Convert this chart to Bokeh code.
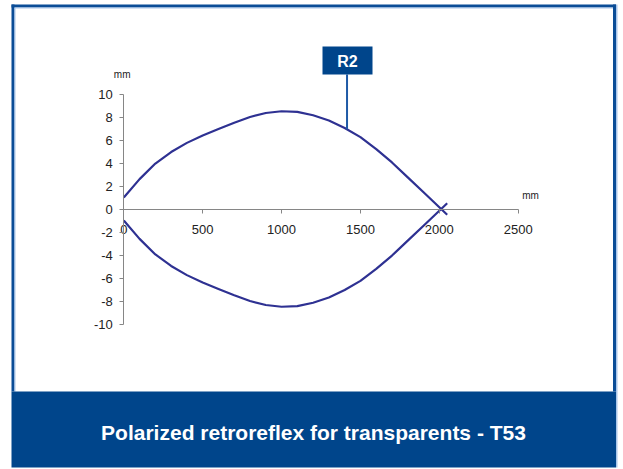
import numpy as np
from bokeh.plotting import figure
from bokeh.models import (Range1d, LinearAxis, FixedTicker, BoxAnnotation, Label, Grid,
                          PrintfTickFormatter)
from bokeh.embed import file_html
from bokeh.resources import INLINE

# ---- data ----
x_upper = [0, 100, 200, 300, 400, 500, 600, 700, 800, 900, 1000, 1100, 1200,
           1300, 1400, 1500, 1600, 1700, 1800, 1900, 2000, 2050]
y_upper = [1.0, 2.6, 3.95, 4.95, 5.75, 6.4, 6.95, 7.5, 8.0, 8.35, 8.5, 8.45, 8.15,
           7.7, 7.05, 6.25, 5.2, 4.05, 2.75, 1.45, 0.15, -0.5]
x_lower = [0, 100, 200, 300, 400, 500, 600, 700, 800, 900, 1000, 1100, 1200,
           1300, 1400, 1500, 1600, 1700, 1800, 1900, 2000, 2050]
y_lower = [-1.0, -2.6, -3.95, -4.95, -5.75, -6.4, -6.95, -7.5, -8.0, -8.35, -8.5, -8.45, -8.15,
           -7.7, -7.05, -6.25, -5.2, -4.05, -2.75, -1.45, -0.15, 0.5]
x_ticks = [0, 500, 1000, 1500, 2000, 2500]
y_ticks = [-10, -8, -6, -4, -2, 0, 2, 4, 6, 8, 10]
callout_x = 1415
callout_text = "R2"
title_text = "Polarized retroreflex for transparents - T53"
unit_text = "mm"

# ---- page pixel <-> data mapping (figure drawn from page pixel 0,0) ----
W, H = 623, 469
X0PX, XS = 123.3, 0.15776
Y0PX, YS = 208.5, 11.5


def dx(px):
    return (px - X0PX) / XS


def dy(py):
    return (Y0PX - py) / YS


FONT = "Liberation Sans"
DARK = "#0b4d97"
LIGHT = "#a9c6ea"
BAND = "#00458b"
CURVE = "#2e3192"
AXIS = "#868686"

p = figure(width=W, height=H, output_backend="svg", toolbar_location=None,
           x_range=Range1d(dx(0), dx(W)), y_range=Range1d(dy(H), dy(0)),
           x_axis_location=None, y_axis_location=None, min_border=0,
           outline_line_color=None, background_fill_color="white",
           border_fill_color="white")
for r in list(p.center):
    if isinstance(r, Grid):
        r.visible = False

# axes crossing at the origin
xa = LinearAxis(fixed_location=0, bounds=(0, 2500), ticker=FixedTicker(ticks=x_ticks))
ya = LinearAxis(fixed_location=0, bounds=(-10, 10), ticker=FixedTicker(ticks=y_ticks))
for ax in (xa, ya):
    ax.axis_line_color = AXIS
    ax.major_tick_line_color = AXIS
    ax.minor_tick_line_color = None
    ax.major_tick_in = 0
    ax.major_tick_out = 4
    ax.major_label_text_font = FONT
    ax.major_label_text_font_size = "13px"
    ax.major_label_text_color = "#222222"
    ax.formatter = PrintfTickFormatter(format="%d")
xa.major_label_standoff = 12
ya.major_label_standoff = 7
p.add_layout(xa, "below")
p.add_layout(ya, "left")

# curves
p.line(x_upper, y_upper, line_color=CURVE, line_width=2.2, line_join="round")
p.line(x_lower, y_lower, line_color=CURVE, line_width=2.2, line_join="round")

# unit labels
p.add_layout(Label(x=dx(121.7), y=dy(74), text=unit_text, text_align="center",
                   text_baseline="middle", text_font=FONT, text_font_size="10px",
                   text_color="#222222"))
p.add_layout(Label(x=dx(530), y=dy(195), text=unit_text, text_align="center",
                   text_baseline="middle", text_font=FONT, text_font_size="10px",
                   text_color="#222222"))

# callout R2
cy = float(np.interp(callout_x, x_upper, y_upper))
p.segment(x0=[callout_x], y0=[dy(74)], x1=[callout_x], y1=[cy],
          line_color="#1f5aa6", line_width=2)
p.add_layout(BoxAnnotation(left=dx(322), right=dx(372), top=dy(46), bottom=dy(74),
                           fill_color=BAND, fill_alpha=1, line_color=None))
p.add_layout(Label(x=dx(347), y=dy(60.5), text=callout_text, text_align="center",
                   text_baseline="middle", text_font=FONT, text_font_size="16px",
                   text_font_style="bold", text_color="white"))


def box(l, r, t, b, c):
    p.add_layout(BoxAnnotation(left=dx(l), right=dx(r), top=dy(t), bottom=dy(b),
                               fill_color=c, fill_alpha=1, line_color=None))


# outer frame
box(11, 14, 4, 391, DARK)
box(14, 15, 7, 391, LIGHT)
box(11, 615.5, 4, 7, DARK)
box(14, 612.5, 7, 8, LIGHT)
box(612.5, 615.5, 4, 391, DARK)
box(615.5, 617, 4, 467, LIGHT)
# title band
box(11, 615.5, 391, 467, BAND)
p.add_layout(Label(x=dx(313), y=dy(432), text=title_text, text_align="center",
                   text_baseline="middle", text_font=FONT, text_font_size="21px",
                   text_font_style="bold", text_color="white"))

open("out.html", "w").write(file_html(p, INLINE))
